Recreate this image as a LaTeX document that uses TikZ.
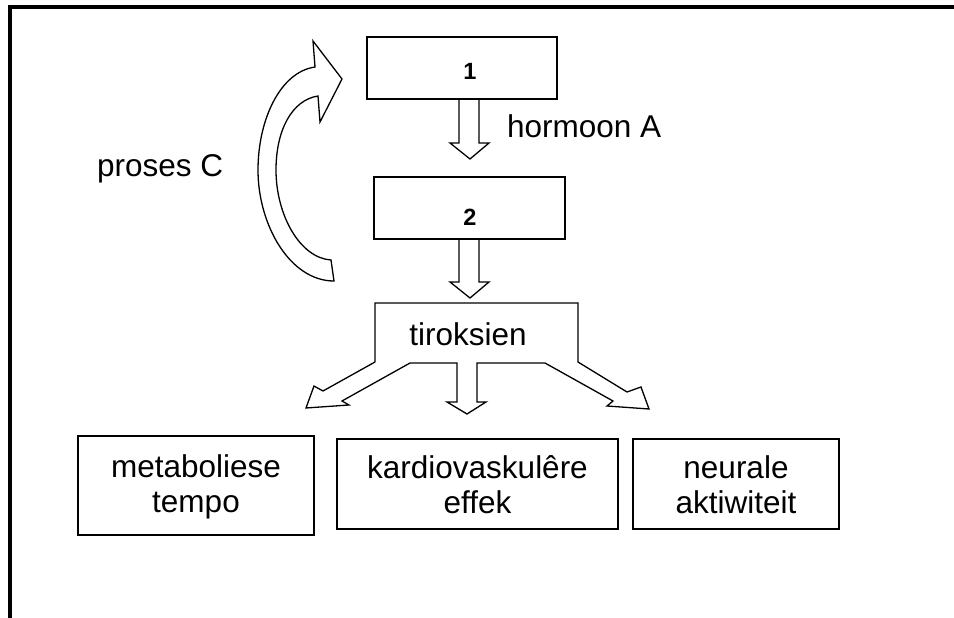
\documentclass[tikz,border=0pt]{standalone}
\usepackage{fontspec}
\setmainfont{Liberation Sans}
\begin{document}
\begin{tikzpicture}[x=1pt,y=-1pt,
  box/.style={draw, line width=1.6pt, inner sep=0pt, outer sep=0pt},
  blk/.style={draw, line width=1.3pt, line join=miter},
  lbl/.style={font=\fontsize{31.5}{35}\selectfont, inner sep=0pt, outer sep=0pt},
  num/.style={font=\fontsize{23.5}{27}\selectfont\bfseries, inner sep=0pt, outer sep=0pt}]
\useasboundingbox (0,0) rectangle (954,618);
% frame
\draw[line width=4pt, line join=miter] (10,618) -- (10,7) -- (954,7);
% boxes
\node[box, minimum width=190pt, minimum height=62pt] (b1) at (462,68) {};
\node[box, minimum width=191pt, minimum height=62pt] (b2) at (469.5,208) {};
\node[box, minimum width=236pt, minimum height=99pt] (ba) at (196,485.5) {};
\node[box, minimum width=281pt, minimum height=90pt] (bb) at (477.5,484) {};
\node[box, minimum width=206pt, minimum height=90pt] (bc) at (736,484) {};
% texts
\node[num] (t1) at (470,71) {1};
\node[num] (t2) at (470,217) {2};
\node[lbl, anchor=base west] (ha) at (507,137) {hormoon A};
\node[lbl, anchor=base west] (pc) at (97,176) {proses C};
\node[lbl, anchor=base] (ti) at (468,345) {tiroksien};
\node[lbl, align=center] (ta) at (196,488) {metaboliese\strut\\tempo\strut};
\node[lbl, align=center] (tb) at (477.5,488.5) {kardiovaskulêre\strut\\effek\strut};
\node[lbl, align=center] (tc) at (736,488.5) {neurale\strut\\aktiwiteit\strut};
% curved arrow (proses C)
\draw[blk] (315,67) -- (313,41) -- (342,79) -- (320,122) -- (318,96)
  .. controls (292,100) and (276,130) .. (276,170)
  .. controls (276,215) and (300,258) .. (331,260)
  -- (334,281)
  .. controls (290,281) and (258,225) .. (258,170)
  .. controls (258,120) and (280,72) .. (315,67) -- cycle;
% block arrow 1 -> 2
\draw[blk] (459,99) -- (459,143) -- (450,143) -- (470,159) -- (489,143) -- (479,143) -- (479,99);
% block arrow 2 -> tiroksien
\draw[blk] (459,239) -- (459,282) -- (450,282) -- (470,298) -- (489,282) -- (479,282) -- (479,239);
% tiroksien shape with three arrows
\draw[blk] (375,303) -- (578,303) -- (578,362)
  -- (627,392) -- (641,387) -- (649,409) -- (607,406) -- (613,401) -- (545,363)
  -- (477,363) -- (477,402) -- (486,402) -- (467,414) -- (447,402) -- (457,402) -- (457,363)
  -- (410,363) -- (342,401) -- (349,405) -- (306,408) -- (314,386) -- (323,391)
  -- (375,362) -- cycle;
\end{tikzpicture}
\end{document}
